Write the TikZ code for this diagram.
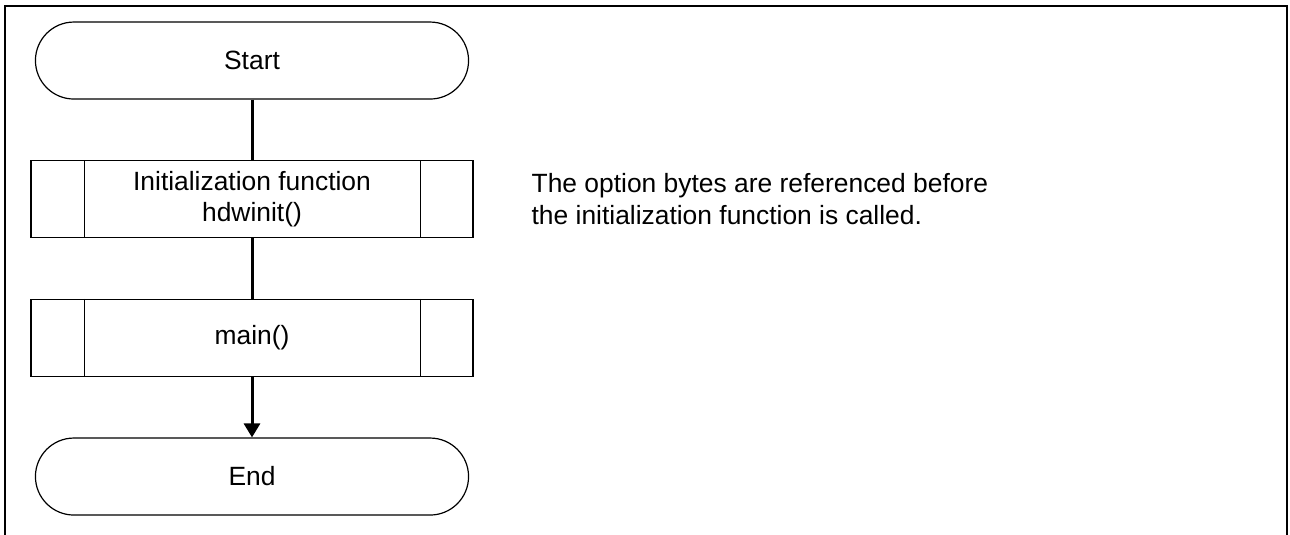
\documentclass[tikz,border=0pt]{standalone}
\usepackage{fontspec}
\setmainfont{Liberation Sans}
\usetikzlibrary{calc}
\usetikzlibrary{positioning}
\usetikzlibrary{shapes.misc}
\usetikzlibrary{arrows.meta}

\begin{document}
\begin{tikzpicture}[node distance=104pt, font=\fontsize{19.8}{23.5}\selectfont,
  terminal/.style={draw, rounded rectangle, line width=0.9pt, minimum width=331.5pt, minimum height=57.75pt},
  subroutine/.style={draw, line width=0.9pt, minimum width=331.5pt, minimum height=57.75pt, align=center},
  flow/.style={line width=2.25pt}]
\useasboundingbox (0,0) rectangle (967.5pt,-401.25pt);
\draw [line width=1.5pt] (3.75pt,-401.25pt) -- (3.75pt,-4.5pt) -- (965.25pt,-4.5pt) -- (965.25pt,-401.25pt);

\node (start) [terminal] at (189pt,-45.4pt) {Start};
\node (init) [subroutine, below of=start] {Initialization function\\hdwinit()};
\node (main) [subroutine, below of=init] {main()};
\node (finish) [terminal, below of=main] {End};

% side bars of the two subroutine boxes
\draw [line width=0.9pt] ($(init.north west)+(40.5pt,0)$) -- ($(init.south west)+(40.5pt,0)$);
\draw [line width=0.9pt] ($(init.north east)-(39.75pt,0)$) -- ($(init.south east)-(39.75pt,0)$);
\draw [line width=0.9pt] ($(main.north west)+(40.5pt,0)$) -- ($(main.south west)+(40.5pt,0)$);
\draw [line width=0.9pt] ($(main.north east)-(39.75pt,0)$) -- ($(main.south east)-(39.75pt,0)$);

\draw [flow] (start.south) -- (init.north);
\draw [flow] (init.south) -- (main.north);
\draw [flow, -{Triangle[width=12pt,length=10.5pt]}] (main.south) -- (finish.north);

\node (note) [right=40pt of init, align=left] {The option bytes are referenced before\\the initialization function is called.};

\end{tikzpicture}
\end{document}
